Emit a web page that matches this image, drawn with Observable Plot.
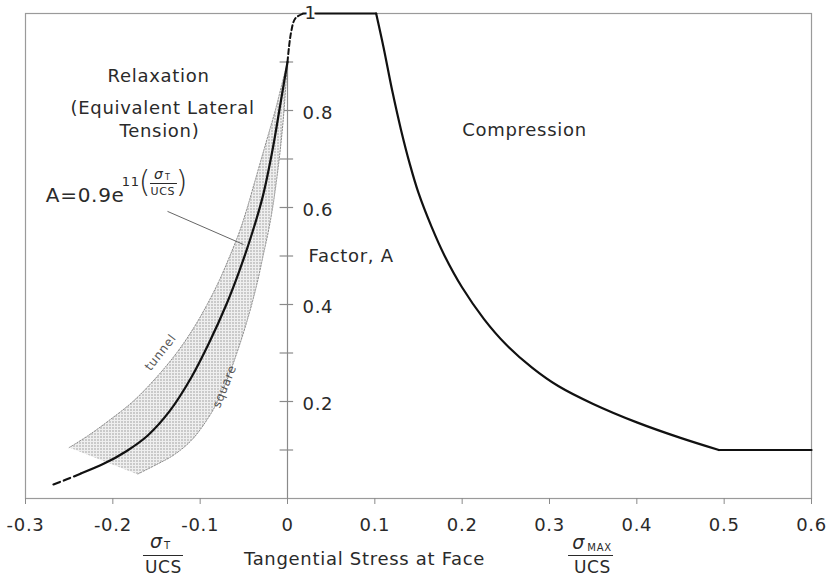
<!DOCTYPE html>
<html><head><meta charset="utf-8">
<script src="https://cdn.jsdelivr.net/npm/d3@7"></script>
<script src="https://cdn.jsdelivr.net/npm/@observablehq/plot@0.6"></script>
<style>
body{margin:0;background:#fff}
svg text{letter-spacing:0.7px}
</style></head><body><div id="chart"></div>
<script>
// ---- axis ticks ----
const xTicks = [-0.3, -0.2, -0.1, 0, 0.1, 0.2, 0.3, 0.4, 0.5, 0.6];
const xTickLabels = ["-0.3", "-0.2", "-0.1", "0", "0.1", "0.2", "0.3", "0.4", "0.5", "0.6"];
const yTicks = [0.1, 0.2, 0.3, 0.4, 0.5, 0.6, 0.7, 0.8, 0.9];
const yTickLabels = [0.2, 0.4, 0.6, 0.8];
const yTopLabel = [1];

// ---- relaxation curve A = 0.9 e^(11 sT/UCS) ----
const tailX = [-0.268, -0.252, -0.236];
const tailY = [0.029, 0.040, 0.052];
const relaxX = [-0.236, -0.210, -0.185, -0.160, -0.135, -0.110, -0.090, -0.070, -0.055, -0.040, -0.028, -0.017, -0.008, 0.000];
const relaxY = [0.052, 0.072, 0.097, 0.130, 0.180, 0.250, 0.320, 0.400, 0.470, 0.550, 0.625, 0.720, 0.815, 0.900];
const capX = [0.000, 0.004, 0.009, 0.018];
const capY = [0.900, 0.960, 0.990, 1.000];

// ---- compression branch ----
const plateauX = [0.018, 0.1015];
const plateauY = [1.0, 1.0];
const compX = [0.1015, 0.110, 0.120, 0.130, 0.140, 0.150, 0.165, 0.180, 0.200, 0.225, 0.250, 0.280, 0.310, 0.350, 0.400, 0.450, 0.494];
const compY = [1.000, 0.930, 0.840, 0.760, 0.690, 0.630, 0.560, 0.500, 0.435, 0.370, 0.318, 0.270, 0.232, 0.195, 0.157, 0.125, 0.100];
const floorX = [0.494, 0.6];
const floorY = [0.1, 0.1];

// ---- shaded band: "tunnel" (upper/left) and "square" (lower/right) limits ----
const tunnelY = [0.105, 0.13, 0.16, 0.20, 0.25, 0.30, 0.35, 0.40, 0.45, 0.50, 0.55, 0.60, 0.65, 0.70, 0.75, 0.80, 0.85, 0.90];
const tunnelX = [-0.250, -0.228, -0.205, -0.177, -0.150, -0.127, -0.108, -0.092, -0.078, -0.066, -0.055, -0.046, -0.038, -0.030, -0.022, -0.014, -0.007, 0.000];
const squareY = [0.90, 0.85, 0.80, 0.75, 0.70, 0.65, 0.60, 0.55, 0.50, 0.45, 0.40, 0.35, 0.30, 0.25, 0.20, 0.16, 0.12, 0.09, 0.07, 0.05];
const squareX = [0.000, -0.002, -0.004, -0.0065, -0.0095, -0.013, -0.017, -0.022, -0.028, -0.034, -0.041, -0.049, -0.058, -0.068, -0.080, -0.093, -0.110, -0.130, -0.150, -0.172];

const pts = (xs, ys) => xs.map((x, i) => ({x, y: ys[i]}));
const band = pts(tunnelX, tunnelY).concat(pts(squareX, squareY));
const ink = "#2a2a2a";
const FF = "DejaVu Sans";

const plot = Plot.plot({
  width: 826,
  height: 577,
  marginLeft: 25,
  marginRight: 15,
  marginTop: 13,
  marginBottom: 79,
  x: {domain: [-0.3, 0.6], axis: null},
  y: {domain: [0, 1], axis: null},
  style: {fontFamily: FF, fontSize: "18px", color: ink, background: "#fff"},
  marks: [
    Plot.frame({stroke: "#9a9a9a", strokeWidth: 1.2}),
    Plot.axisX({ticks: xTicks, tickSize: 6, tickPadding: 14, tickFormat: (d, i) => xTickLabels[i], stroke: "#8a8a8a", fill: ink, fontSize: 18, label: null}),
    // y axis at x = 0
    Plot.ruleX([0], {y1: 0, y2: 0.9, stroke: "#8a8a8a", strokeWidth: 1.2}),
    Plot.ruleY(yTicks, {x1: -0.0085, x2: 0.007, stroke: "#8a8a8a", strokeWidth: 1.2}),
    Plot.text(yTickLabels, {x: 0.0172, y: d => d, text: d => String(d), textAnchor: "start", dy: 3, fontSize: 18, fill: ink}),
    // band
    Plot.line(band, {x: "x", y: "y", curve: "catmull-rom", fill: "url(#stip)", stroke: "#8c8c8c", strokeWidth: 1, strokeDasharray: "1.5 1.5"}),
    // curves
    Plot.line(pts(tailX, tailY), {x: "x", y: "y", curve: "catmull-rom", stroke: "#111", strokeWidth: 2.2, strokeDasharray: "7 4"}),
    Plot.line(pts(relaxX, relaxY), {x: "x", y: "y", curve: "catmull-rom", stroke: "#111", strokeWidth: 2.2}),
    Plot.line(pts(capX, capY), {x: "x", y: "y", curve: "catmull-rom", stroke: "#111", strokeWidth: 2, strokeDasharray: "5 3"}),
    Plot.line(pts(plateauX, plateauY), {x: "x", y: "y", stroke: "#111", strokeWidth: 2.2}),
    Plot.line(pts(compX, compY), {x: "x", y: "y", curve: "catmull-rom", stroke: "#111", strokeWidth: 2.2}),
    Plot.line(pts(floorX, floorY), {x: "x", y: "y", stroke: "#111", strokeWidth: 2.2}),
    // label "1" at the top of the axis
    Plot.text(yTopLabel, {x: 0.0263, y: d => d, text: d => String(d), fontSize: 18, fill: ink, stroke: "#fff", strokeWidth: 6, paintOrder: "stroke"}),
    // region labels
    Plot.text(["Relaxation"], {x: -0.1477, y: 0.870, fontSize: 18, fill: ink}),
    Plot.text(["(Equivalent Lateral"], {x: -0.1431, y: 0.804, fontSize: 18, fill: ink}),
    Plot.text(["Tension)"], {x: -0.1466, y: 0.757, fontSize: 18, fill: ink}),
    Plot.text(["Compression"], {x: 0.2714, y: 0.759, fontSize: 18, fill: ink}),
    Plot.text(["Factor, A"], {x: 0.0241, y: 0.499, textAnchor: "start", fontSize: 18, fill: ink}),
    Plot.text(["tunnel"], {x: -0.1454, y: 0.301, rotate: -52, fontSize: 12, fill: "#555"}),
    Plot.text(["square"], {x: -0.0721, y: 0.231, rotate: -68, fontSize: 12, fill: "#555"}),
    // formula and leader line
    Plot.link([0], {x1: -0.1374, y1: 0.592, x2: -0.0504, y2: 0.5237, stroke: "#666", strokeWidth: 1}),
    Plot.text(["A=0.9e"], {x: -0.2, y: 0.6, dx: -67, dy: -12, textAnchor: "start", fontSize: 20, fill: ink}),
    Plot.text(["11"], {x: -0.2, y: 0.6, dx: 9, dy: -26, textAnchor: "start", fontSize: 13, fill: ink}),
    Plot.text(["("], {x: -0.2, y: 0.6, dx: 32, dy: -25, fontSize: 30, fontWeight: 200, fill: ink}),
    Plot.text(["σ"], {x: -0.2, y: 0.6, dx: 46, dy: -33, fontSize: 14, fontStyle: "italic", fill: ink}),
    Plot.text(["T"], {x: -0.2, y: 0.6, dx: 55, dy: -30, fontSize: 8, fill: ink}),
    Plot.ruleY([0.6], {x1: -0.1569, x2: -0.1260, dy: -24, stroke: ink, strokeWidth: 1}),
    Plot.text(["UCS"], {x: -0.2, y: 0.6, dx: 50, dy: -16, fontSize: 11, fill: ink}),
    Plot.text([")"], {x: -0.2, y: 0.6, dx: 69, dy: -25, fontSize: 30, fontWeight: 200, fill: ink}),
    // x axis title and fractions
    Plot.text(["Tangential Stress at Face"], {x: 0.0882, y: 0, dy: 61, fontSize: 18, fill: ink}),
    Plot.text(["σ"], {x: -0.142, y: 0, dx: -7, dy: 43, fontSize: 19, fontStyle: "italic", fill: ink}),
    Plot.text(["T"], {x: -0.142, y: 0, dx: 4, dy: 47, fontSize: 10, fill: ink}),
    Plot.ruleY([0], {x1: -0.1649, x2: -0.1191, dy: 57, stroke: ink, strokeWidth: 1.2}),
    Plot.text(["UCS"], {x: -0.142, y: 0, dy: 69, fontSize: 17, fill: ink}),
    Plot.text(["σ"], {x: 0.3481, y: 0, dx: -13, dy: 44, fontSize: 19, fontStyle: "italic", fill: ink}),
    Plot.text(["MAX"], {x: 0.3481, y: 0, dx: 8, dy: 49, fontSize: 10, fill: ink}),
    Plot.ruleY([0], {x1: 0.3218, x2: 0.3733, dy: 57, stroke: ink, strokeWidth: 1.2}),
    Plot.text(["UCS"], {x: 0.3481, y: 0, dx: 1, dy: 69, fontSize: 17, fill: ink})
  ]
});
plot.insertAdjacentHTML("afterbegin",
  '<defs><pattern id="stip" width="3" height="3" patternUnits="userSpaceOnUse">' +
  '<rect width="3" height="3" fill="#efefef"/><rect x="1" y="1" width="1" height="1" fill="#5a5a5a"/></pattern></defs>');
document.getElementById("chart").appendChild(plot);
</script></body></html>
